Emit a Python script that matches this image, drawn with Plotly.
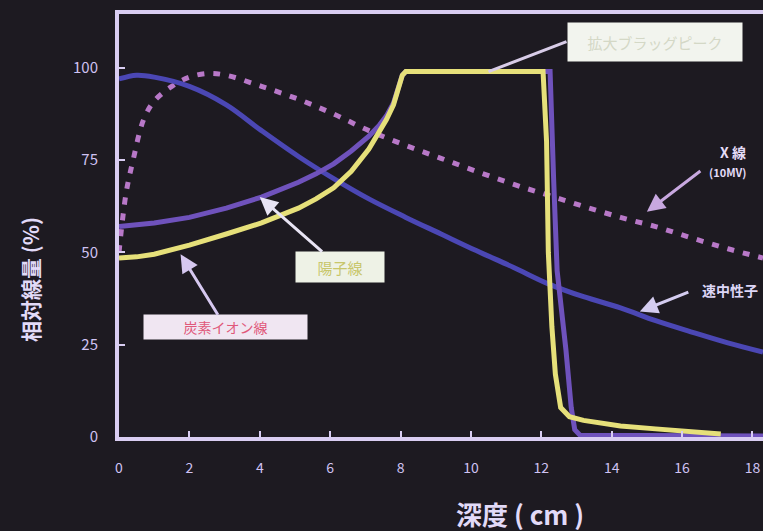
import plotly.graph_objects as go

# ---- data (depth in cm, relative dose in %) ----
neutron_depth = [0, 0.5, 1, 2, 3.05, 4.05, 5.1, 6.1, 7.1, 8.15, 9.15, 10.15, 11.2, 12.2, 13.2, 14.25, 15.25, 16.25, 17.3, 18.3]
neutron_dose = [97, 98, 97.5, 95, 90, 83, 76, 70, 64.5, 59.5, 55, 50.5, 46, 41.5, 38, 35, 31.5, 28.5, 25.5, 23]

xray_depth = [0, 0.2, 0.4, 0.7, 1, 1.5, 2, 2.55, 3.05, 4.05, 5.1, 6.1, 7.1, 8.15, 9.15, 10.15, 11.2, 12.2, 13.2, 14.25, 15.25, 16.25, 17.3, 18.3]
xray_dose = [50, 66, 75, 86, 91, 95, 97.5, 98.5, 98, 95, 91.5, 87.5, 83, 79, 75.5, 72, 68.5, 65.5, 62.5, 59.5, 57, 54, 51, 48.5]

proton_depth = [0, 1, 2, 3.05, 4.05, 5.1, 5.6, 6.1, 6.6, 7.1, 7.4, 7.6, 7.8, 7.95, 8.05, 8.15, 12.25, 12.35, 12.45, 12.7, 12.85, 12.95, 13.1, 18.3]
proton_dose = [57, 58, 59.5, 62, 65, 69, 71.3, 74, 77.5, 81.5, 84.5, 87, 90.5, 95, 98, 99, 99, 70, 45, 23.6, 8, 2, 0.5, 0.3]

carbon_depth = [0, 0.5, 1, 2, 3.05, 4.05, 5.1, 5.6, 6.1, 6.6, 7.1, 7.4, 7.6, 7.8, 7.95, 8.05, 8.15, 12.05, 12.15, 12.2, 12.3, 12.4, 12.55, 12.8, 13.2, 13.6, 14.25, 15.25, 16.5, 17.1]
carbon_dose = [48.5, 48.8, 49.5, 52, 55, 58, 62, 64.5, 67.5, 72, 78, 82.5, 86, 90, 95, 98, 99, 99, 80, 50, 30, 17, 8, 5.5, 4.5, 3.8, 3, 2.2, 1.4, 0.8]

x_ticks = [0, 2, 4, 6, 8, 10, 12, 14, 16, 18]
x_ticktext = ["0", "2", "4", "6", "8", "10", "12", "14", "16", "18"]
y_ticks = [0, 25, 50, 75, 100]
y_ticktext = ["0", "25", "50", "75", "100"]

BG = "#1d1a21"
LAV = "#cfc2f2"
FONT = "Noto Sans CJK JP"

W, H = 763, 531
L, R, T, B = 119, 0, 14, 94

fig = go.Figure()
fig.add_trace(go.Scatter(x=xray_depth, y=xray_dose, mode="lines", line_shape="spline",
                         line=dict(color="#b878c8", width=5, dash="7px,9px"), name="X線"))
fig.add_trace(go.Scatter(x=neutron_depth, y=neutron_dose, mode="lines", line_shape="spline",
                         line=dict(color="#4b47b4", width=5), name="速中性子線"))
fig.add_trace(go.Scatter(x=proton_depth, y=proton_dose, mode="lines", line_shape="linear",
                         line=dict(color="#6f52bc", width=5), name="陽子線"))
fig.add_trace(go.Scatter(x=carbon_depth, y=carbon_dose, mode="lines", line_shape="linear",
                         line=dict(color="#e6e07a", width=5), name="炭素イオン線"))


def px(xp, yp):
    """screen pixel -> paper fraction"""
    return (xp - L) / (W - L - R), (H - yp - B) / (H - T - B)


ann = []
# top box (spread-out peak)
ann.append(dict(x=10.5, y=99, xref="x", yref="y", ax=78, ay=-30, showarrow=True,
                arrowhead=0, arrowwidth=3, arrowcolor="#d8cce8",
                text="拡大ブラッグピーク", font=dict(family=FONT, size=15, color="#d4d8c6"),
                bgcolor="#f2f4ee", borderpad=8, width=158, height=22, xanchor="left"))
# middle white box -> proton curve
ann.append(dict(x=4.0, y=65, xref="x", yref="y", ax=80, ay=70, showarrow=True,
                arrowhead=2, arrowsize=1.2, arrowwidth=3, arrowcolor="#e8e4f4",
                text="陽子線", font=dict(family=FONT, size=15, color="#c8c66a"),
                bgcolor="#eef2e6", borderpad=6, width=76, height=18))
# pink box -> carbon curve
ann.append(dict(x=1.75, y=49.5, xref="x", yref="y", ax=45, ay=73, showarrow=True,
                arrowhead=2, arrowsize=1.2, arrowwidth=3, arrowcolor="#d6c8f0",
                text="炭素イオン線", font=dict(family=FONT, size=14, color="#e0587a"),
                bgcolor="#f0e6f2", borderpad=4, width=155, height=16))
# X-ray label
ann.append(dict(x=15.0, y=61.0, xref="x", yref="y", ax=55, ay=-42, showarrow=True,
                arrowhead=2, arrowsize=1.2, arrowwidth=3, arrowcolor="#c8a8e0",
                text="", font=dict(size=1)))
x0, y0 = px(718, 152)
ann.append(dict(x=x0, y=y0, xref="paper", yref="paper", text="<b>X 線</b>", yanchor="middle",
                showarrow=False, font=dict(family=FONT, size=14, color="#e4dcf8"), xanchor="left"))
x0, y0 = px(707, 172)
ann.append(dict(x=x0, y=y0, xref="paper", yref="paper", text="<b>(10MV)</b>", yanchor="middle",
                showarrow=False, font=dict(family=FONT, size=11, color="#e4dcf8"), xanchor="left"))
# neutron label
ann.append(dict(x=14.8, y=34, xref="x", yref="y", ax=50, ay=-20, showarrow=True,
                arrowhead=2, arrowsize=1.2, arrowwidth=3, arrowcolor="#d4ccf0",
                text="", font=dict(size=1)))
x0, y0 = px(700, 290)
ann.append(dict(x=x0, y=y0, xref="paper", yref="paper", text="<b>速中性子</b>", yanchor="middle",
                showarrow=False, font=dict(family=FONT, size=14, color="#dcd6f6"), xanchor="left"))
# axis titles
x0, y0 = px(520, 513)
ann.append(dict(x=x0, y=y0, xref="paper", yref="paper", text="<b>深度 ( cm )</b>", yanchor="middle",
                showarrow=False, font=dict(family=FONT, size=26, color="#e2daf8"), xanchor="center"))
x0, y0 = px(30, 280)
ann.append(dict(x=x0, y=y0, xref="paper", yref="paper", text="<b>相対線量 (%)</b>", yanchor="middle",
                showarrow=False, textangle=-90, font=dict(family=FONT, size=21, color="#e2daf8"),
                xanchor="center"))

fig.update_layout(
    width=W, height=H, margin=dict(l=L, r=R, t=T, b=B),
    paper_bgcolor=BG, plot_bgcolor=BG, showlegend=False,
    font=dict(family=FONT, color=LAV),
    annotations=ann,
    xaxis=dict(range=[0, 18.3], tickvals=x_ticks, ticktext=x_ticktext, showgrid=False, zeroline=False,
               showline=True, linecolor="#d9cdf2", linewidth=4, mirror=True,
               ticks="inside", ticklen=6, tickwidth=2, tickcolor="#d9cdf2", ticklabelstandoff=15,
               tickfont=dict(family=FONT, size=14, color=LAV)),
    yaxis=dict(range=[0, 114.6], tickvals=y_ticks, ticktext=y_ticktext, showgrid=False, zeroline=False,
               showline=True, linecolor="#d9cdf2", linewidth=4,
               ticks="inside", ticklen=6, tickwidth=2, tickcolor="#d9cdf2", ticklabelstandoff=14,
               tickfont=dict(family=FONT, size=15, color=LAV)),
)

fig.write_html("out.html", config={"displayModeBar": False},
               post_script="document.body.style.margin='0';document.body.style.background='%s';" % BG)
